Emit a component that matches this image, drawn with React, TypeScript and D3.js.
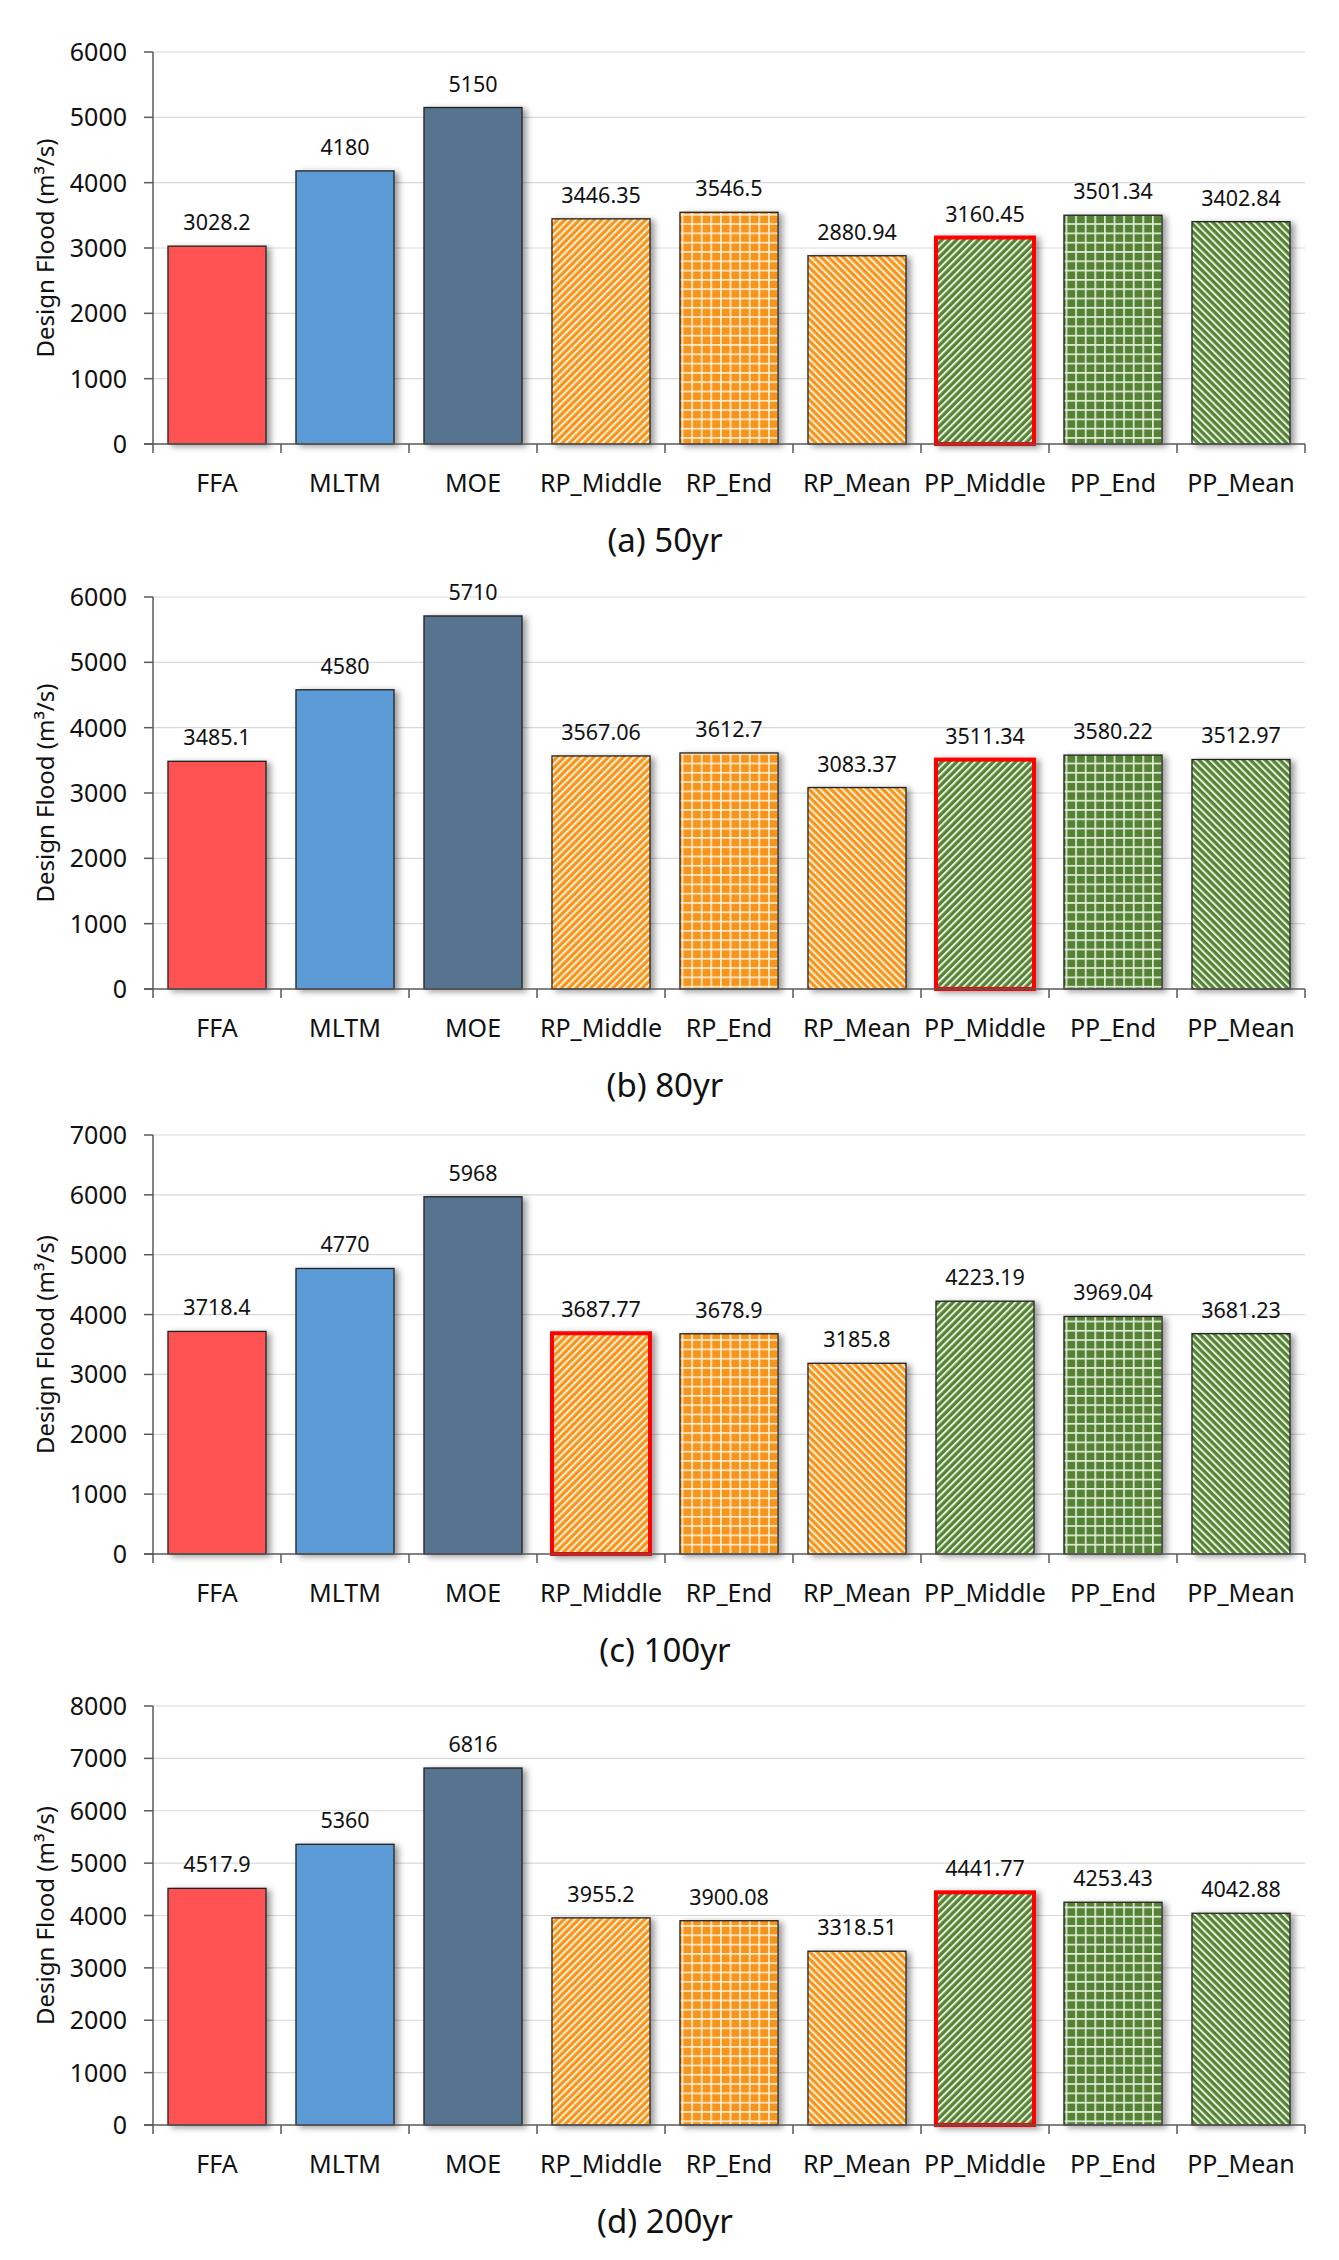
import React from "react";
import * as d3 from "d3";

const categories = ["FFA", "MLTM", "MOE", "RP_Middle", "RP_End", "RP_Mean", "PP_Middle", "PP_End", "PP_Mean"];
const values50 = [3028.2, 4180, 5150, 3446.35, 3546.5, 2880.94, 3160.45, 3501.34, 3402.84];
const values80 = [3485.1, 4580, 5710, 3567.06, 3612.7, 3083.37, 3511.34, 3580.22, 3512.97];
const values100 = [3718.4, 4770, 5968, 3687.77, 3678.9, 3185.8, 4223.19, 3969.04, 3681.23];
const values200 = [4517.9, 5360, 6816, 3955.2, 3900.08, 3318.51, 4441.77, 4253.43, 4042.88];
const yMaxes = [6000, 6000, 7000, 8000];
const titles = ["(a) 50yr", "(b) 80yr", "(c) 100yr", "(d) 200yr"];
const highlighted = ["PP_Middle", "PP_Middle", "RP_Middle", "PP_Middle"];
const labelTexts = [
  ["3028.2", "4180", "5150", "3446.35", "3546.5", "2880.94", "3160.45", "3501.34", "3402.84"],
  ["3485.1", "4580", "5710", "3567.06", "3612.7", "3083.37", "3511.34", "3580.22", "3512.97"],
  ["3718.4", "4770", "5968", "3687.77", "3678.9", "3185.8", "4223.19", "3969.04", "3681.23"],
  ["4517.9", "5360", "6816", "3955.2", "3900.08", "3318.51", "4441.77", "4253.43", "4042.88"],
];
const seriesValues = [values50, values80, values100, values200];

// layout
const panelTops = [52, 597, 1135, 1706];
const panelHeights = [392, 392, 419, 419];
const X0 = 153;
const X1 = 1305;

const ORANGE = "#F7941D";
const GREEN = "#548235";
const fills = [
  "#FF5252",
  "#5B9BD5",
  "#56738F",
  "url(#pOrangeUp)",
  "url(#pOrangeGrid)",
  "url(#pOrangeDown)",
  "url(#pGreenUp)",
  "url(#pGreenGrid)",
  "url(#pGreenDown)",
];

const FONT = "'Noto Sans', 'DejaVu Sans', sans-serif";
const TXT = "#111";

function Stripes({ id, color, angle, line }: { id: string; color: string; angle: number; line: string }) {
  const p = 5.2;
  return (
    <pattern id={id} patternUnits="userSpaceOnUse" width={p} height={10} patternTransform={`rotate(${angle})`}>
      <rect x={0} y={0} width={p} height={10} fill={color} />
      <rect x={0} y={0} width={2} height={10} fill={line} />
    </pattern>
  );
}

function Grid({ id, color, line }: { id: string; color: string; line: string }) {
  return (
    <pattern id={id} patternUnits="userSpaceOnUse" width={9.6} height={9.3}>
      <rect x={0} y={0} width={9.6} height={9.3} fill={color} />
      <rect x={0} y={0} width={1.7} height={9.3} fill={line} />
      <rect x={0} y={0} width={9.6} height={1.7} fill={line} />
    </pattern>
  );
}

function Panel({ idx }: { idx: number }) {
  const top = panelTops[idx];
  const h = panelHeights[idx];
  const base = top + h;
  const vals = seriesValues[idx];
  const x = d3.scaleBand<string>().domain(categories).range([X0, X1]).paddingInner(0.234).paddingOuter(0.117);
  const y = d3.scaleLinear().domain([0, yMaxes[idx]]).range([base, top]);
  const ticks = d3.range(0, yMaxes[idx] + 1, 1000);
  const step = x.step();
  return (
    <g>
      {ticks.filter((t) => t > 0).map((t) => (
        <line key={"g" + t} x1={X0} x2={X1} y1={y(t)} y2={y(t)} stroke="#D9D9D9" strokeWidth={1.2} />
      ))}
      {categories.map((c, i) => {
        const bx = x(c) as number;
        const by = y(vals[i]);
        const hl = highlighted[idx] === c;
        return (
          <g key={c}>
            <rect
              x={bx}
              y={by}
              width={x.bandwidth()}
              height={base - by}
              fill={fills[i]}
              stroke={hl ? "#FF0000" : "#222"}
              strokeWidth={hl ? 4 : 1.3}
              filter="url(#shadow)"
            />
            <text
              x={bx + x.bandwidth() / 2}
              y={by - 16}
              textAnchor="middle"
              fontSize={21.5}
              fontFamily={FONT}
              fill={TXT}
            >
              {labelTexts[idx][i]}
            </text>
            <text
              x={bx + x.bandwidth() / 2}
              y={base + 48}
              textAnchor="middle"
              fontSize={25}
              fontFamily={FONT}
              fill={TXT}
            >
              {c}
            </text>
          </g>
        );
      })}
      {/* y axis */}
      <line x1={X0} x2={X0} y1={top} y2={base + 9} stroke="#595959" strokeWidth={1.5} />
      {ticks.map((t) => (
        <g key={"t" + t}>
          <line x1={X0 - 9} x2={X0} y1={y(t)} y2={y(t)} stroke="#595959" strokeWidth={1.5} />
          <text x={127} y={y(t)} dy="0.36em" textAnchor="end" fontSize={25} fontFamily={FONT} fill={TXT}>
            {t}
          </text>
        </g>
      ))}
      {/* x axis */}
      <line x1={X0 - 9} x2={X1} y1={base} y2={base} stroke="#595959" strokeWidth={1.5} />
      {d3.range(1, categories.length + 1).map((k) => (
        <line key={"xt" + k} x1={X0 + k * step} x2={X0 + k * step} y1={base} y2={base + 9} stroke="#595959" strokeWidth={1.5} />
      ))}
      <text
        transform={`translate(54,${top + h / 2}) rotate(-90)`}
        textAnchor="middle"
        fontSize={24}
        fontFamily={FONT}
        fill={TXT}
      >
        Design Flood (m³/s)
      </text>
      <text x={665} y={base + 108} textAnchor="middle" fontSize={33} fontFamily={FONT} fill={TXT}>
        {titles[idx]}
      </text>
    </g>
  );
}

export default function App() {
  return (
    <svg
      width={1339}
      height={2260}
      viewBox="0 0 1339 2260"
      style={{ position: "absolute", left: 0, top: 0, background: "#fff" }}
    >
      <defs>
        <filter id="shadow" x="-10%" y="-10%" width="130%" height="120%">
          <feDropShadow dx={4} dy={2} stdDeviation={3} floodColor="#000" floodOpacity={0.4} />
        </filter>
        <Stripes id="pOrangeUp" color={ORANGE} angle={45} line="#FFF0D6" />
        <Stripes id="pOrangeDown" color={ORANGE} angle={-45} line="#FFF0D6" />
        <Stripes id="pGreenUp" color={GREEN} angle={45} line="#E4F0DC" />
        <Stripes id="pGreenDown" color={GREEN} angle={-45} line="#E4F0DC" />
        <Grid id="pOrangeGrid" color={ORANGE} line="#FFEACB" />
        <Grid id="pGreenGrid" color={GREEN} line="#E0EDD7" />
      </defs>
      <rect x={0} y={0} width={1339} height={2260} fill="#fff" />
      {titles.map((_, i) => (
        <Panel key={i} idx={i} />
      ))}
    </svg>
  );
}
